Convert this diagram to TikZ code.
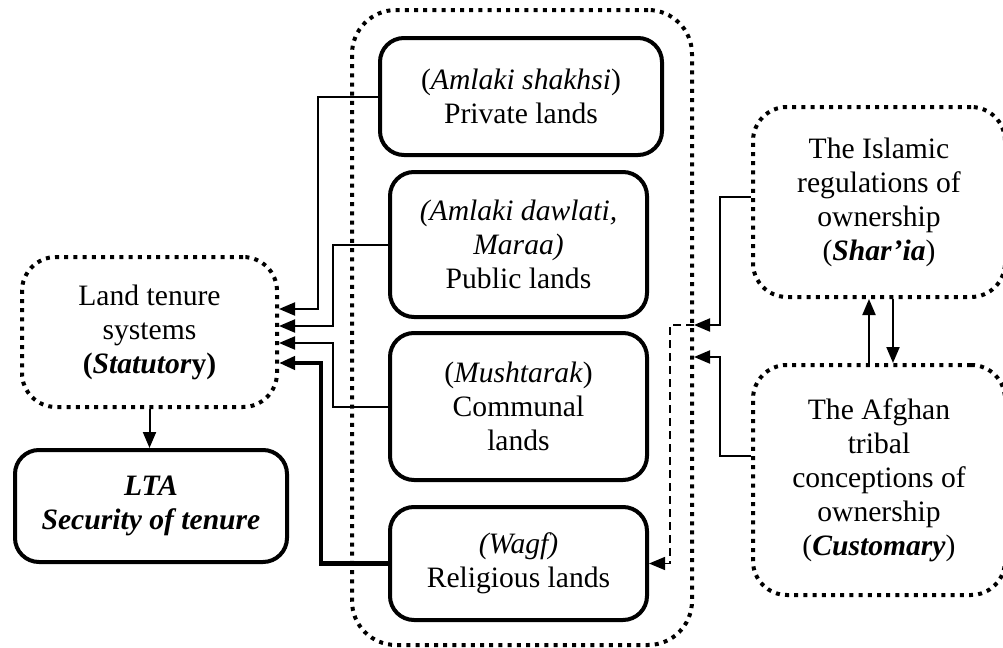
\documentclass[tikz,border=0pt]{standalone}
\usepackage{fontspec}
\setmainfont{Liberation Serif}
\usetikzlibrary{arrows.meta}
\begin{document}
\begin{tikzpicture}[x=0.5pt,y=-0.5pt,
  every node/.style={font=\fontsize{14.8pt}{17pt}\selectfont, align=center, inner sep=0pt},
  solidbox/.style={draw, line width=2pt, rounded corners=12pt},
  dotbox/.style={draw, line width=2pt, dash pattern=on 2pt off 2.6pt, rounded corners=17pt},
  conn/.style={line width=1pt, -{Triangle[length=8pt,width=6.5pt]}},
  thickconn/.style={line width=2.3pt, -{Triangle[length=8pt,width=6.5pt]}},
  dashconn/.style={line width=0.7pt, dash pattern=on 4pt off 2.5pt, -{Triangle[length=8pt,width=6.5pt]}}]
\useasboundingbox (0,0) rectangle (1003,648);

% container of the four land categories
\node[draw, line width=2pt, dash pattern=on 2pt off 2.6pt, rounded corners=22pt,
      minimum width=170pt, minimum height=317.5pt] (cont) at (522,327.5) {};

% land categories
\node[solidbox, minimum width=141pt, minimum height=58.5pt] (priv) at (521,96.5)
  {(\textit{Amlaki shakhsi})\\Private lands};
\node[solidbox, minimum width=128.5pt, minimum height=72.5pt] (pub) at (518.5,244.5)
  {\textit{(Amlaki dawlati,}\\\textit{Maraa)}\\Public lands};
\node[solidbox, minimum width=128.5pt, minimum height=73.5pt] (comm) at (518.5,406.5)
  {(\textit{Mushtarak})\\Communal\\lands};
\node[solidbox, minimum width=128.5pt, minimum height=56.5pt] (rel) at (518.5,563.5)
  {\textit{(Wagf)}\\Religious lands};

% statutory system and its outcome
\node[dotbox, minimum width=127.5pt, minimum height=75pt] (lts) at (149.5,332)
  {Land tenure\\systems\\\textbf{(\textit{Statutor}y)}};
\node[solidbox, minimum width=136pt, minimum height=56pt] (lta) at (151,506)
  {\textbf{\textit{LTA}}\\\textbf{\textit{Security of tenure}}};

% religious and customary sources
\node[dotbox, minimum width=126pt, minimum height=95pt] (shar) at (879,202)
  {The Islamic\\regulations of\\ownership\\(\textbf{\textit{Shar’ia}})};
\node[dotbox, minimum width=126pt, minimum height=115pt] (afg) at (879,480)
  {The Afghan\\tribal\\conceptions of\\ownership\\(\textbf{\textit{Customary}})};

% categories feeding the statutory system
\draw[conn] (priv.west) -- ++(-60,0) |- ([yshift=11.5pt]lts.east);
\draw[conn] (pub.west) -- ++(-55,0) |- ([yshift=3pt]lts.east);
\draw[conn] (comm.west) -- ++(-55,0) |- ([yshift=-5.5pt]lts.east);
\draw[thickconn] (rel.west) -- ++(-67,0) |- ([yshift=-15.5pt]lts.east);

\draw[conn] (lts.south) -- (lts.south |- lta.north);

% sources feeding the container
\draw[conn] ([yshift=2.5pt]shar.west) -- ++(-31,0) |- ([yshift=1.25pt]cont.east);
\draw[conn] ([yshift=12pt]afg.west) -- ++(-31,0) |- ([yshift=-14.75pt]cont.east);
\draw[dashconn] ([yshift=1.25pt]cont.east) -- ++(-24,0) |- (rel.east);

% mutual influence of the two sources
\draw[conn] ([xshift=-5pt]afg.north) -- ([xshift=-5pt]shar.south);
\draw[conn] ([xshift=7pt]shar.south) -- ([xshift=7pt]afg.north);
\end{tikzpicture}
\end{document}
